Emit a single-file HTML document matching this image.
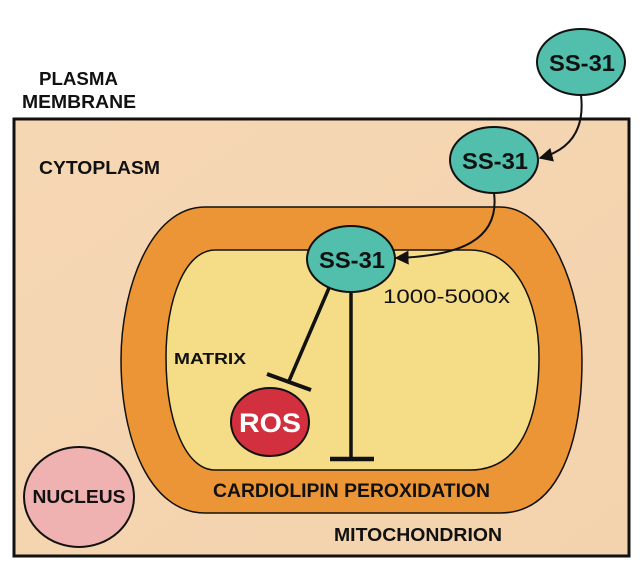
<!DOCTYPE html>
<html><head><meta charset="utf-8"><style>
html,body{margin:0;padding:0;background:#fff;}
svg{display:block;}
text{font-family:"Liberation Sans",sans-serif;font-weight:bold;fill:#111;}
</style></head><body>
<svg width="640" height="568" viewBox="0 0 640 568" xmlns="http://www.w3.org/2000/svg">
<defs>
<marker id="ah" viewBox="0 0 10 10" refX="9" refY="5" markerWidth="7" markerHeight="7" orient="auto"><path d="M0,0 L10,5 L0,10 Z" fill="#111"/></marker>
<linearGradient id="cy" x1="0" y1="0" x2="1" y2="1"><stop offset="0" stop-color="#f6d7b4"/><stop offset="1" stop-color="#f3d3ad"/></linearGradient>
</defs>
<rect x="14" y="119" width="615" height="437" fill="url(#cy)" stroke="#111" stroke-width="3"/>
<text x="39" y="85" font-size="18" textLength="79" lengthAdjust="spacingAndGlyphs">PLASMA</text>
<text x="22" y="108" font-size="18" textLength="114" lengthAdjust="spacingAndGlyphs">MEMBRANE</text>
<text x="39" y="174" font-size="18" textLength="121" lengthAdjust="spacingAndGlyphs">CYTOPLASM</text>
<path d="M205,207 L500,207 C550,207 582,290 582,360 C582,440 560,513 500,513 L205,513 C150,513 121,440 121,360 C121,290 150,207 205,207 Z" fill="#ec9536" stroke="#111" stroke-width="1.5"/>
<path d="M215,250 L470,250 C515,250 539,300 539,357 C539,420 520,470 470,470 L215,470 C185,470 166,420 166,357 C166,300 185,250 215,250 Z" fill="#f5dc86" stroke="#111" stroke-width="1.5"/>
<path d="M581,95 C585,130 570,150 540,158" fill="none" stroke="#111" stroke-width="2" marker-end="url(#ah)"/>
<path d="M494,193 C500,240 460,256 396,258" fill="none" stroke="#111" stroke-width="2" marker-end="url(#ah)"/>
<line x1="329" y1="288" x2="289" y2="381" stroke="#111" stroke-width="3.5"/>
<line x1="267" y1="374" x2="311" y2="390" stroke="#111" stroke-width="4"/>
<line x1="351" y1="290" x2="351" y2="458" stroke="#111" stroke-width="3.5"/>
<line x1="330" y1="459" x2="374" y2="459" stroke="#111" stroke-width="4.5"/>
<ellipse cx="581" cy="62" rx="44" ry="33" fill="#52bfad" stroke="#111" stroke-width="2"/>
<text x="582" y="71" font-size="23" text-anchor="middle" textLength="66" lengthAdjust="spacingAndGlyphs">SS-31</text>
<ellipse cx="494" cy="160" rx="44" ry="33" fill="#52bfad" stroke="#111" stroke-width="2"/>
<text x="495" y="169" font-size="23" text-anchor="middle" textLength="66" lengthAdjust="spacingAndGlyphs">SS-31</text>
<ellipse cx="351" cy="259" rx="44" ry="33" fill="#52bfad" stroke="#111" stroke-width="2"/>
<text x="352" y="268" font-size="23" text-anchor="middle" textLength="66" lengthAdjust="spacingAndGlyphs">SS-31</text>
<text x="383" y="303" font-size="19" style="font-weight:normal" textLength="127" lengthAdjust="spacingAndGlyphs">1000-5000x</text>
<text x="174" y="364" font-size="16" textLength="72" lengthAdjust="spacingAndGlyphs">MATRIX</text>
<ellipse cx="270" cy="422" rx="39" ry="34" fill="#d2303e" stroke="#111" stroke-width="2"/>
<text x="270" y="432" font-size="27" text-anchor="middle" style="fill:#fff" textLength="62" lengthAdjust="spacingAndGlyphs">ROS</text>
<text x="213" y="497" font-size="19" textLength="277" lengthAdjust="spacingAndGlyphs">CARDIOLIPIN PEROXIDATION</text>
<text x="334" y="541" font-size="18" textLength="168" lengthAdjust="spacingAndGlyphs">MITOCHONDRION</text>
<ellipse cx="79" cy="497" rx="55" ry="50" fill="#efb2b0" stroke="#111" stroke-width="2"/>
<text x="79" y="503" font-size="18" text-anchor="middle" textLength="93" lengthAdjust="spacingAndGlyphs">NUCLEUS</text>
</svg>
</body></html>
